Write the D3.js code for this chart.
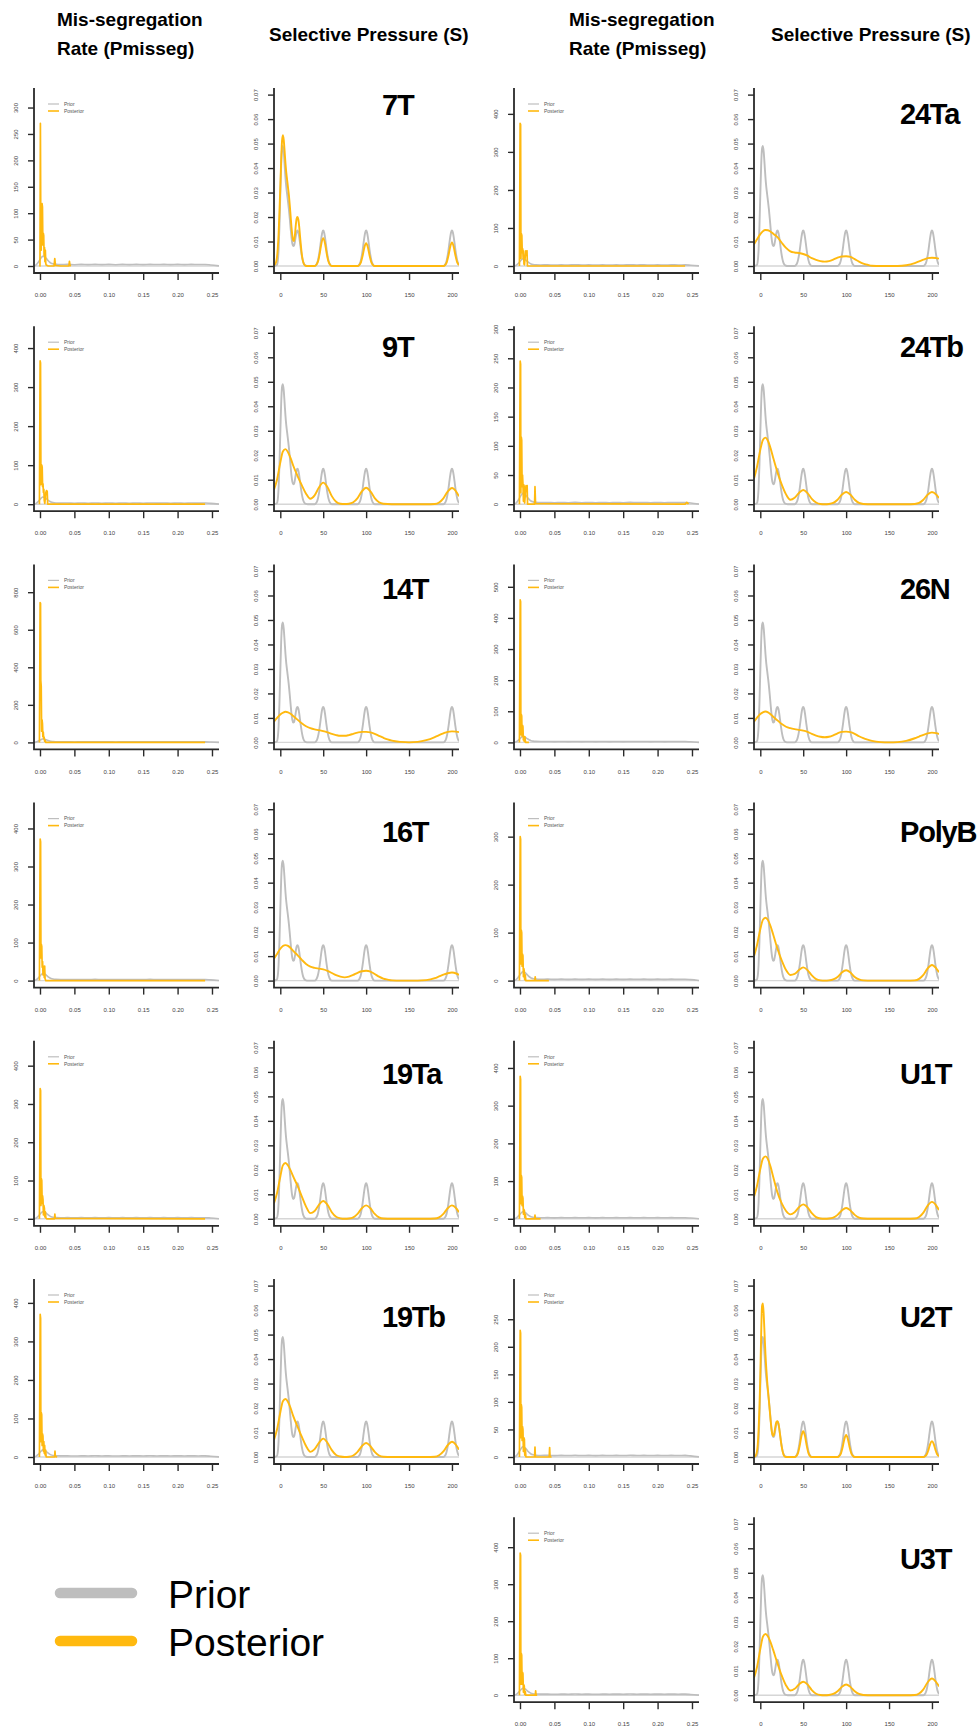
<!DOCTYPE html>
<html>
<head>
<meta charset="utf-8">
<script src="https://cdn.jsdelivr.net/npm/d3@7"></script>
<style>
  body { margin: 0; background: #fff; }
  svg { display: block; font-family: "Liberation Sans", Arial, Helvetica, sans-serif; }
</style>
</head>
<body>
<script>
// ---------------- data ----------------
const samples = ["7T", "9T", "14T", "16T", "19Ta", "19Tb", "24Ta", "24Tb", "26N", "PolyB", "U1T", "U2T", "U3T"];

// y-axis ticks and upper limit of the Pmisseg density axes
const pmissegYTicks = [
  [0, 50, 100, 150, 200, 250, 300],
  [0, 100, 200, 300, 400],
  [0, 200, 400, 600, 800],
  [0, 100, 200, 300, 400],
  [0, 100, 200, 300, 400],
  [0, 100, 200, 300, 400],
  [0, 100, 200, 300, 400],
  [0, 50, 100, 150, 200, 250, 300],
  [0, 100, 200, 300, 400, 500],
  [0, 100, 200, 300],
  [0, 100, 200, 300, 400],
  [0, 50, 100, 150, 200, 250],
  [0, 100, 200, 300, 400]
];
const pmissegYMax = [337, 456, 948, 468, 465, 462, 468, 305, 572, 371, 472, 323, 481];
const pmissegXTicks = [0, 0.05, 0.10, 0.15, 0.20, 0.25];

const sYTicks = [0, 0.01, 0.02, 0.03, 0.04, 0.05, 0.06, 0.07];
const sYMax = 0.0727;
const sXTicks = [0, 50, 100, 150, 200];

// prior density of the mis-segregation rate (same for every sample)
const pmissegPrior = [
  [-0.0087, 0], [-0.006, 1.5], [-0.003, 6], [0, 12], [0.002, 16], [0.004, 18.5], [0.006, 18],
  [0.008, 16], [0.010, 13], [0.012, 10], [0.014, 7.5], [0.016, 5.5], [0.019, 4], [0.023, 3.2],
  [0.03, 2.8], [0.04, 3.0], [0.05, 2.5], [0.06, 3.0], [0.07, 2.6], [0.08, 3.1], [0.09, 2.6],
  [0.10, 3.0], [0.11, 2.5], [0.12, 3.0], [0.13, 2.6], [0.14, 3.0], [0.15, 2.6], [0.16, 3.1],
  [0.17, 2.7], [0.18, 3.0], [0.19, 2.6], [0.20, 3.0], [0.21, 2.6], [0.22, 3.0], [0.23, 2.7],
  [0.24, 2.9], [0.248, 2.0], [0.2602, 0.2]
];

// posterior densities of the mis-segregation rate, one per sample
const pmissegPosterior = [
  [[-0.001,0],[0,0],[0.0006,270],[0.0012,60],[0.0018,30],[0.0024,115],[0.003,118],[0.0036,112],[0.0042,40],[0.0048,62],[0.0054,58],[0.006,20],[0.0066,35],[0.0072,8],[0.0078,30],[0.0084,5],[0.009,2],[0.012,0],[0.0205,0],[0.0215,14],[0.0225,1],[0.03,0],[0.042,0],[0.0428,9],[0.0436,1],[0.045,0]],
  [[-0.0008,0],[0.0002,367],[0.0008,362],[0.0014,50],[0.002,60],[0.0026,100],[0.0032,95],[0.0038,45],[0.0044,52],[0.005,30],[0.0056,38],[0.0062,10],[0.007,2],[0.0085,30],[0.0095,35],[0.0105,33],[0.0112,0],[0.24,0]],
  [[-0.0008,0],[0.0002,745],[0.0008,740],[0.0012,330],[0.0018,300],[0.0024,60],[0.003,120],[0.0036,100],[0.0042,30],[0.0048,55],[0.0054,20],[0.006,28],[0.0068,5],[0.0075,12],[0.0085,0],[0.24,0]],
  [[-0.0008,0],[0.0003,372],[0.0009,365],[0.0014,60],[0.002,95],[0.0026,90],[0.0032,35],[0.0038,50],[0.0044,15],[0.005,38],[0.0056,36],[0.0062,8],[0.0068,38],[0.0074,5],[0.0085,0],[0.24,0]],
  [[-0.0008,0],[0.0003,340],[0.0009,335],[0.0014,35],[0.002,105],[0.0026,100],[0.0032,40],[0.0038,60],[0.0044,50],[0.005,10],[0.0056,35],[0.0064,28],[0.007,5],[0.0078,18],[0.0086,2],[0.01,0],[0.021,0],[0.0216,12],[0.0222,1],[0.24,0]],
  [[-0.0008,0],[0.0003,370],[0.0009,360],[0.0013,40],[0.0019,115],[0.0025,110],[0.0031,30],[0.0037,60],[0.0043,55],[0.005,15],[0.0056,40],[0.0062,10],[0.0068,30],[0.0075,5],[0.0082,18],[0.009,0],[0.0212,0],[0.0218,15],[0.0224,1],[0.025,0]],
  [[-0.0008,0],[0.0002,375],[0.0009,372],[0.0014,20],[0.002,85],[0.0027,80],[0.0033,35],[0.004,45],[0.0046,20],[0.0052,40],[0.0058,5],[0.0065,3],[0.0085,40],[0.0095,38],[0.0102,40],[0.0108,0],[0.24,0]],
  [[-0.0008,0],[0.0003,245],[0.0009,240],[0.0013,20],[0.0019,115],[0.0025,110],[0.0031,30],[0.0037,50],[0.0043,35],[0.005,5],[0.0056,33],[0.0062,30],[0.0068,2],[0.0088,32],[0.0096,30],[0.0104,32],[0.011,0],[0.0212,0],[0.0218,30],[0.0226,1],[0.24,0],[0.2425,3],[0.245,0]],
  [[-0.0008,0],[0.0003,458],[0.0009,452],[0.0013,25],[0.0019,90],[0.0025,85],[0.0031,20],[0.0037,55],[0.0043,50],[0.0049,8],[0.0055,20],[0.0062,3],[0.0072,18],[0.008,0],[0.013,0]],
  [[-0.0008,0],[0.0003,300],[0.0009,295],[0.0013,35],[0.0019,105],[0.0025,100],[0.0031,30],[0.0037,55],[0.0043,52],[0.005,8],[0.0056,25],[0.0062,20],[0.0068,2],[0.0076,12],[0.0084,0],[0.0215,0],[0.0221,8],[0.0227,0],[0.042,0]],
  [[-0.0008,0],[0.0003,378],[0.0009,370],[0.0013,40],[0.0019,115],[0.0025,110],[0.0031,35],[0.0037,60],[0.0043,55],[0.005,12],[0.0056,25],[0.0064,22],[0.007,3],[0.0078,12],[0.0086,0],[0.0212,0],[0.0218,10],[0.0224,0],[0.03,0]],
  [[-0.0008,0],[0.0003,230],[0.0009,225],[0.0013,35],[0.0019,95],[0.0025,90],[0.0031,30],[0.0037,55],[0.0043,50],[0.005,10],[0.0056,35],[0.0064,32],[0.007,3],[0.0078,15],[0.0086,0],[0.0212,0],[0.0218,18],[0.0224,0],[0.0425,0],[0.0431,17],[0.0437,0],[0.046,0]],
  [[-0.0008,0],[0.0003,384],[0.0009,378],[0.0013,30],[0.0019,113],[0.0025,108],[0.0031,30],[0.0037,62],[0.0043,58],[0.005,8],[0.0056,28],[0.0062,25],[0.0068,2],[0.0076,10],[0.0084,0],[0.0222,0],[0.0228,12],[0.0234,0],[0.025,0]]
];

// prior density of the selective pressure (same for every sample)
const sPrior = [
  [-7.34,0],[-4,0.0004],[-3,0.0018],[-2,0.0065],[-1,0.016],[0,0.029],[1,0.041],[2,0.0478],[3,0.049],[4,0.0465],
  [5,0.0415],[6,0.0362],[7,0.0322],[8,0.0292],[9,0.0263],[10,0.0232],[11,0.0195],[12,0.0155],[13,0.0118],[14,0.0092],
  [15,0.0081],[16,0.0083],[17,0.0099],[18,0.0121],[19,0.0139],[20,0.0145],[21,0.0138],[22,0.0119],[23,0.0093],[24,0.0066],
  [25,0.0043],[26,0.0025],[27,0.0013],[28,0.0006],[30,0.0001],[32,0],
  [40,0],[42,0.0006],[43,0.0013],[44,0.0025],[45,0.0043],[46,0.0066],[47,0.0093],[48,0.0119],[49,0.0138],[50,0.0145],
  [51,0.0138],[52,0.0119],[53,0.0093],[54,0.0066],[55,0.0043],[56,0.0025],[57,0.0013],[58,0.0006],[60,0],
  [90,0],[92,0.0006],[93,0.0013],[94,0.0025],[95,0.0043],[96,0.0066],[97,0.0093],[98,0.0119],[99,0.0138],[100,0.0145],
  [101,0.0138],[102,0.0119],[103,0.0093],[104,0.0066],[105,0.0043],[106,0.0025],[107,0.0013],[108,0.0006],[110,0],
  [190,0],[192,0.0006],[193,0.0013],[194,0.0025],[195,0.0043],[196,0.0066],[197,0.0093],[198,0.0119],[199,0.0138],[200,0.0145],
  [201,0.0138],[202,0.0119],[203,0.0093],[204,0.0066],[205,0.0043],[206,0.0025],[207,0.0013],[208,0.0006],[208.2,0.0005]
];

// posterior densities of the selective pressure, one per sample
const sPosterior = [
  [[-7.34,0.0003],[-5,0.0015],[-3,0.007],[-2,0.013],[-1,0.022],[0,0.032],[1,0.043],[2,0.051],[3,0.0534],[4,0.0515],[5,0.047],[6,0.042],[7,0.038],[8,0.035],[9,0.032],[10,0.029],[11,0.025],[12,0.0205],[13,0.016],[14,0.0125],[15,0.0105],[16,0.0102],[17,0.0125],[18,0.0165],[19,0.0193],[20,0.020],[21,0.019],[22,0.0162],[23,0.0122],[24,0.0083],[25,0.005],[26,0.0027],[27,0.0013],[28,0.0005],[30,0],[40,0],[42,0.0005],[44,0.0019],[46,0.0052],[48,0.0094],[50,0.0114],[52,0.0094],[54,0.0052],[56,0.0019],[58,0.0005],[60,0],[90,0],[92,0.0004],[94,0.0016],[96,0.0043],[98,0.0077],[100,0.0093],[102,0.0077],[104,0.0043],[106,0.0016],[108,0.0004],[110,0],[190,0],[192,0.0004],[194,0.0016],[196,0.0044],[198,0.0079],[200,0.0096],[202,0.0079],[204,0.0044],[206,0.0016],[208.2,0.0004]],
  [[-7.34,0.0059],[-4,0.0098],[0,0.0170],[3,0.0215],[6,0.0225],[9,0.0212],[12,0.0188],[15,0.0158],[20,0.0116],[25,0.0078],[30,0.0043],[35,0.0022],[40,0.0036],[45,0.0068],[50,0.0088],[55,0.0069],[60,0.0033],[65,0.0010],[70,0.0002],[75,0.0001],[80,0.0002],[85,0.0008],[90,0.0025],[95,0.0052],[100,0.0067],[105,0.0052],[110,0.0025],[115,0.0008],[120,0.0002],[130,0],[150,0],[170,0],[180,0.0001],[185,0.0007],[190,0.0024],[195,0.0051],[200,0.0066],[205,0.0051],[208.2,0.0032]],
  [[-7.34,0.0085],[-4,0.0099],[0,0.0114],[3,0.0121],[6,0.0125],[9,0.0123],[12,0.0117],[15,0.0108],[20,0.0093],[25,0.0078],[30,0.0066],[35,0.0058],[40,0.0053],[45,0.0050],[50,0.0046],[55,0.0041],[60,0.0035],[65,0.0030],[70,0.0027],[75,0.0027],[80,0.0030],[85,0.0035],[90,0.0040],[95,0.0043],[100,0.0043],[105,0.0041],[110,0.0035],[115,0.0027],[120,0.0019],[125,0.0012],[130,0.0007],[140,0.0002],[150,0],[160,0.0002],[170,0.0009],[180,0.0022],[185,0.0030],[190,0.0037],[195,0.0043],[200,0.0045],[205,0.0044],[208.2,0.0042]],
  [[-7.34,0.0090],[-4,0.0108],[0,0.0130],[3,0.0141],[6,0.0145],[9,0.0142],[12,0.0133],[15,0.0121],[20,0.0104],[25,0.0085],[30,0.0068],[35,0.0057],[40,0.0052],[45,0.0049],[50,0.0046],[55,0.0040],[60,0.0031],[65,0.0022],[70,0.0016],[75,0.0013],[80,0.0016],[85,0.0023],[90,0.0032],[95,0.0038],[100,0.0040],[105,0.0037],[110,0.0027],[115,0.0016],[120,0.0008],[125,0.0004],[130,0.0001],[140,0],[150,0],[160,0],[170,0.0002],[180,0.0010],[185,0.0017],[190,0.0024],[195,0.0030],[200,0.0033],[205,0.0029],[208.2,0.0023]],
  [[-7.34,0.0064],[-4,0.0102],[0,0.0172],[3,0.0218],[6,0.0228],[9,0.0218],[12,0.0198],[15,0.0173],[20,0.0135],[25,0.0092],[30,0.0050],[35,0.0023],[40,0.0032],[45,0.0057],[50,0.0073],[55,0.0057],[60,0.0027],[65,0.0008],[70,0.0002],[75,0],[80,0.0001],[85,0.0006],[90,0.0020],[95,0.0043],[100,0.0055],[105,0.0043],[110,0.0020],[115,0.0006],[120,0.0001],[130,0],[150,0],[170,0],[180,0.0001],[185,0.0006],[190,0.0020],[195,0.0043],[200,0.0055],[205,0.0043],[208.2,0.0027]],
  [[-7.34,0.0070],[-4,0.0110],[0,0.0182],[3,0.0228],[6,0.0237],[9,0.0225],[12,0.0200],[15,0.0168],[20,0.0125],[25,0.0083],[30,0.0045],[35,0.0021],[40,0.0032],[45,0.0058],[50,0.0075],[55,0.0058],[60,0.0028],[65,0.0008],[70,0.0002],[75,0],[80,0.0001],[85,0.0006],[90,0.0021],[95,0.0044],[100,0.0057],[105,0.0044],[110,0.0021],[115,0.0006],[120,0.0001],[130,0],[150,0],[170,0],[180,0.0001],[185,0.0007],[190,0.0023],[195,0.0048],[200,0.0062],[205,0.0048],[208.2,0.0030]],
  [[-7.34,0.0089],[-4,0.0108],[0,0.0130],[3,0.0142],[6,0.0147],[9,0.0146],[12,0.0140],[15,0.0132],[20,0.0118],[25,0.0095],[30,0.0074],[35,0.0060],[40,0.0055],[45,0.0053],[50,0.0049],[55,0.0042],[60,0.0032],[65,0.0025],[70,0.0020],[75,0.0018],[80,0.0020],[85,0.0026],[90,0.0034],[95,0.0039],[100,0.0040],[105,0.0037],[110,0.0028],[115,0.0018],[120,0.0010],[125,0.0005],[130,0.0001],[140,0],[150,0],[160,0],[170,0.0003],[180,0.0012],[185,0.0019],[190,0.0026],[195,0.0032],[200,0.0034],[205,0.0032],[208.2,0.0030]],
  [[-7.34,0.0105],[-4,0.0150],[0,0.0222],[3,0.0262],[6,0.0272],[9,0.0258],[12,0.0228],[15,0.0190],[20,0.0130],[25,0.0080],[30,0.0040],[35,0.0018],[40,0.0026],[45,0.0046],[50,0.0058],[55,0.0045],[60,0.0022],[65,0.0007],[70,0.0001],[75,0],[80,0.0001],[85,0.0005],[90,0.0018],[95,0.0039],[100,0.0050],[105,0.0039],[110,0.0018],[115,0.0005],[120,0.0001],[130,0],[150,0],[170,0],[180,0.0001],[185,0.0005],[190,0.0018],[195,0.0039],[200,0.0050],[205,0.0039],[208.2,0.0025]],
  [[-7.34,0.0084],[-4,0.0100],[0,0.0116],[3,0.0123],[6,0.0126],[9,0.0123],[12,0.0115],[15,0.0105],[20,0.0090],[25,0.0075],[30,0.0064],[35,0.0058],[40,0.0054],[45,0.0051],[50,0.0048],[55,0.0043],[60,0.0035],[65,0.0028],[70,0.0023],[75,0.0021],[80,0.0023],[85,0.0029],[90,0.0037],[95,0.0043],[100,0.0044],[105,0.0042],[110,0.0035],[115,0.0025],[120,0.0017],[125,0.0011],[130,0.0006],[140,0.0001],[150,0],[160,0.0001],[170,0.0006],[180,0.0017],[185,0.0024],[190,0.0031],[195,0.0037],[200,0.0040],[205,0.0038],[208.2,0.0034]],
  [[-7.34,0.0100],[-4,0.0142],[0,0.0210],[3,0.0248],[6,0.0257],[9,0.0247],[12,0.0222],[15,0.0188],[20,0.0130],[25,0.0082],[30,0.0043],[35,0.0023],[40,0.0027],[45,0.0043],[50,0.0054],[55,0.0043],[60,0.0021],[65,0.0006],[70,0.0001],[75,0],[80,0.0001],[85,0.0005],[90,0.0015],[95,0.0033],[100,0.0042],[105,0.0033],[110,0.0015],[115,0.0005],[120,0.0001],[130,0],[150,0],[170,0],[180,0.0001],[185,0.0007],[190,0.0023],[195,0.0050],[200,0.0064],[205,0.0050],[208.2,0.0034]],
  [[-7.34,0.0090],[-4,0.0132],[0,0.0203],[3,0.0245],[6,0.0255],[9,0.0243],[12,0.0212],[15,0.0172],[20,0.0108],[25,0.0063],[30,0.0032],[35,0.0018],[40,0.0027],[45,0.0047],[50,0.0059],[55,0.0047],[60,0.0023],[65,0.0007],[70,0.0001],[75,0],[80,0.0001],[85,0.0005],[90,0.0016],[95,0.0034],[100,0.0044],[105,0.0034],[110,0.0016],[115,0.0005],[120,0.0001],[130,0],[150,0],[170,0],[180,0.0001],[185,0.0007],[190,0.0025],[195,0.0054],[200,0.0069],[205,0.0054],[208.2,0.0036]],
  [[-7.34,0],[-5,0.0008],[-3,0.005],[-2,0.011],[-1,0.02],[0,0.033],[1,0.050],[2,0.0615],[3,0.0627],[4,0.058],[5,0.050],[6,0.042],[7,0.036],[8,0.031],[9,0.027],[10,0.023],[11,0.019],[12,0.015],[13,0.0115],[14,0.0093],[15,0.0086],[16,0.0092],[17,0.0112],[18,0.0133],[19,0.0144],[20,0.0146],[21,0.0138],[22,0.0118],[23,0.0091],[24,0.0064],[25,0.0041],[26,0.0023],[27,0.0011],[28,0.0004],[30,0],[40,0],[42,0.0004],[44,0.0017],[46,0.0048],[48,0.0087],[50,0.0105],[52,0.0087],[54,0.0048],[56,0.0017],[58,0.0004],[60,0],[90,0],[92,0.0004],[94,0.0015],[96,0.0041],[98,0.0074],[100,0.009],[102,0.0074],[104,0.0041],[106,0.0015],[108,0.0004],[110,0],[190,0],[192,0.0003],[194,0.0011],[196,0.003],[198,0.0054],[200,0.0065],[202,0.0054],[204,0.003],[206,0.0011],[208.2,0.0003]],
  [[-7.34,0.0071],[-4,0.0112],[0,0.0188],[3,0.0238],[6,0.0250],[9,0.0240],[12,0.0216],[15,0.0185],[20,0.0130],[25,0.0080],[30,0.0040],[35,0.0019],[40,0.0026],[45,0.0044],[50,0.0055],[55,0.0044],[60,0.0021],[65,0.0006],[70,0.0001],[75,0],[80,0.0001],[85,0.0005],[90,0.0016],[95,0.0034],[100,0.0044],[105,0.0034],[110,0.0016],[115,0.0005],[120,0.0001],[130,0],[150,0],[170,0],[180,0.0001],[185,0.0007],[190,0.0024],[195,0.0053],[200,0.0068],[205,0.0053],[208.2,0.0036]]
];

const legendLabels = ["Prior", "Posterior"];
const columnHeaders = [["Mis-segregation", "Rate (Pmisseg)"], ["Selective Pressure (S)"]];

// ---------------- layout ----------------
const W = 977, H = 1727;
const panelRow  = [0, 1, 2, 3, 4, 5, 0, 1, 2, 3, 4, 5, 6];
const panelSide = [0, 0, 0, 0, 0, 0, 1, 1, 1, 1, 1, 1, 1];
// vertical centre of each sample label, in units of the S density axis
const titleCenter = [0.066, 0.0645, 0.0627, 0.061, 0.0592, 0.0575, 0.0623, 0.0645, 0.0627, 0.061, 0.0592, 0.0575, 0.0557];
const sideOffset = 480;          // horizontal shift of the right-hand pair of columns
const axisX = [34, 274];         // left edge of the Pmisseg and S plot boxes
const titleDX = [108, 146];      // sample label offset from the S box, per side
const ROW0 = 266, ROWSTEP = 238.2;
const PW = 185, UP = 178, DN = 7;

const COL_PRIOR = "#BEBEBE", COL_POST = "#FFB90F", COL_ZERO = "#D6D6D6", COL_AXIS = "#2a2a2a";

const svg = d3.select("body").append("svg").attr("width", W).attr("height", H);
svg.append("rect").attr("width", W).attr("height", H).attr("fill", "#fff");
const defs = svg.append("defs");

// column headers
[0, 1].forEach(side => {
  const dx = side ? [569, 771] : [57, 269];
  const h = svg.append("g").attr("font-weight", "bold").attr("font-size", 19).attr("fill", "#000");
  h.append("text").attr("x", dx[0]).attr("y", 26).text(columnHeaders[0][0]);
  h.append("text").attr("x", dx[0]).attr("y", 55).text(columnHeaders[0][1]);
  h.append("text").attr("x", dx[1]).attr("y", 41).text(columnHeaders[1][0]);
});

function drawFrame(g, ax, y0, x, y, xTicks, yTicks, xFmt, yFmt) {
  // R-style "l" box
  g.append("path")
    .attr("d", `M${ax},${y0 - UP}V${y0 + DN}H${ax + PW}`)
    .attr("fill", "none").attr("stroke", COL_AXIS).attr("stroke-width", 1.8);

  const xa = g.append("g").attr("transform", `translate(0,${y0 + DN})`)
    .call(d3.axisBottom(x).tickValues(xTicks).tickFormat(xFmt).tickSize(7).tickPadding(13).tickSizeOuter(0));
  xa.select(".domain").remove();
  xa.selectAll("line").attr("stroke", COL_AXIS).attr("stroke-width", 1.4);
  xa.selectAll("text").attr("font-size", 6).attr("fill", "#444").attr("font-family", null);

  const ya = g.append("g").attr("transform", `translate(${ax},0)`)
    .call(d3.axisLeft(y).tickValues(yTicks).tickFormat(yFmt).tickSize(6).tickSizeOuter(0));
  ya.select(".domain").remove();
  ya.selectAll("line").attr("stroke", COL_AXIS).attr("stroke-width", 1.4);
  ya.selectAll("text")
    .attr("font-size", 6).attr("fill", "#444").attr("font-family", null)
    .attr("text-anchor", "middle").attr("dy", null)
    .attr("x", 0).attr("y", -16)
    .attr("transform", "rotate(-90)");
}

function clipFor(id, ax, y0) {
  defs.append("clipPath").attr("id", id).append("rect")
    .attr("x", ax).attr("y", y0 - UP).attr("width", PW).attr("height", UP + DN);
  return `url(#${id})`;
}

samples.forEach((name, i) => {
  const side = panelSide[i], row = panelRow[i];
  const y0 = ROW0 + row * ROWSTEP;

  // ---- Pmisseg panel ----
  {
    const ax = axisX[0] + side * sideOffset;
    const g = svg.append("g");
    const x = d3.scaleLinear().domain([-0.0087, 0.2602]).range([ax, ax + PW]);
    const y = d3.scaleLinear().domain([0, pmissegYMax[i]]).range([y0, y0 - UP]);
    const plot = g.append("g").attr("clip-path", clipFor(`cp${i}`, ax, y0));
    plot.append("line").attr("x1", ax).attr("x2", ax + PW).attr("y1", y(0)).attr("y2", y(0))
      .attr("stroke", COL_ZERO).attr("stroke-width", 1.4);
    plot.append("path").datum(pmissegPrior)
      .attr("d", d3.line().x(d => x(d[0])).y(d => y(d[1])).curve(d3.curveMonotoneX))
      .attr("fill", "none").attr("stroke", COL_PRIOR).attr("stroke-width", 1.6);
    plot.append("path").datum(pmissegPosterior[i])
      .attr("d", d3.line().x(d => x(d[0])).y(d => y(d[1])))
      .attr("fill", "none").attr("stroke", COL_POST).attr("stroke-width", 1.7).attr("stroke-linejoin", "round");
    drawFrame(g, ax, y0, x, y, pmissegXTicks, pmissegYTicks[i], d3.format(".2f"), d3.format("d"));

    // small in-panel legend
    const lg = g.append("g");
    [COL_PRIOR, COL_POST].forEach((c, k) => {
      const ly = y0 - UP + 16 + k * 7;
      lg.append("line").attr("x1", ax + 14).attr("x2", ax + 25).attr("y1", ly).attr("y2", ly)
        .attr("stroke", c).attr("stroke-width", k ? 1.6 : 1.2);
      lg.append("text").attr("x", ax + 30).attr("y", ly + 1.8).attr("font-size", 5).attr("fill", "#555")
        .text(legendLabels[k]);
    });
  }

  // ---- S panel ----
  {
    const ax = axisX[1] + side * sideOffset;
    const g = svg.append("g");
    const x = d3.scaleLinear().domain([-7.34, 208.2]).range([ax, ax + PW]);
    const y = d3.scaleLinear().domain([0, sYMax]).range([y0, y0 - UP]);
    const plot = g.append("g").attr("clip-path", clipFor(`cs${i}`, ax, y0));
    plot.append("line").attr("x1", ax).attr("x2", ax + PW).attr("y1", y(0)).attr("y2", y(0))
      .attr("stroke", COL_ZERO).attr("stroke-width", 1.4);
    const ln = d3.line().x(d => x(d[0])).y(d => y(d[1])).curve(d3.curveMonotoneX);
    plot.append("path").datum(sPrior).attr("d", ln)
      .attr("fill", "none").attr("stroke", COL_PRIOR).attr("stroke-width", 1.9);
    plot.append("path").datum(sPosterior[i]).attr("d", ln)
      .attr("fill", "none").attr("stroke", COL_POST).attr("stroke-width", 1.9);
    drawFrame(g, ax, y0, x, y, sXTicks, sYTicks, d3.format("d"), d3.format(".2f"));

    g.append("text").attr("x", ax + titleDX[side]).attr("y", y(titleCenter[i]) + 10.5)
      .attr("font-size", 29).attr("font-weight", "bold").attr("letter-spacing", -1.2)
      .attr("fill", "#000").text(name);
  }
});

// figure legend in the empty bottom-left cell
const big = svg.append("g");
[[COL_PRIOR, 1593], [COL_POST, 1641]].forEach(([c, ly], k) => {
  big.append("line").attr("x1", 60).attr("x2", 132).attr("y1", ly).attr("y2", ly)
    .attr("stroke", c).attr("stroke-width", 10.5).attr("stroke-linecap", "round");
  big.append("text").attr("x", 168).attr("y", ly + 15).attr("font-size", 39).attr("fill", "#000")
    .text(legendLabels[k]);
});
</script>
</body>
</html>
